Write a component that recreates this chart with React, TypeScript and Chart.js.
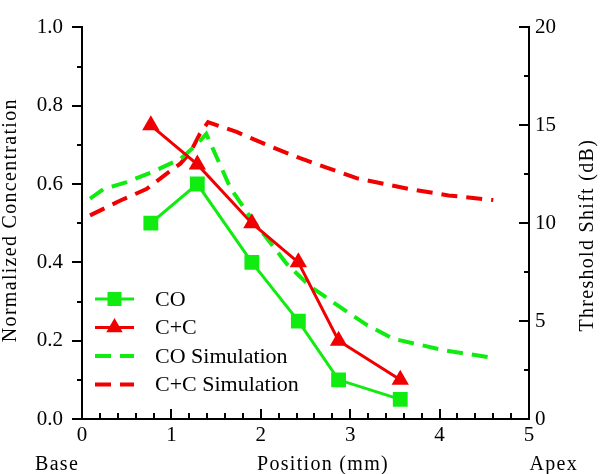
import React, { useEffect, useRef } from 'react';
import { Chart, registerables } from 'chart.js';

Chart.register(...registerables);

// ---- data ----
const coX = [0.77, 1.29, 1.9, 2.42, 2.87, 3.56];
const coY = [0.5, 0.6, 0.4, 0.25, 0.1, 0.05];
const ccX = [0.77, 1.29, 1.9, 2.42, 2.87, 3.56];
const ccY = [0.75, 0.65, 0.5, 0.4, 0.2, 0.1];
const coSimX = [0.09, 0.24, 0.5, 0.8, 1.1, 1.28, 1.39, 1.66, 1.9, 2.07, 2.29, 2.55, 2.81, 3.18, 3.48, 4.04, 4.6];
const coSimY = [0.563, 0.587, 0.605, 0.632, 0.664, 0.7, 0.728, 0.59, 0.51, 0.461, 0.396, 0.339, 0.298, 0.241, 0.205, 0.176, 0.156];
const ccSimX = [0.09, 0.43, 0.72, 0.98, 1.1, 1.21, 1.32, 1.41, 1.73, 2.14, 2.44, 3.07, 3.67, 4.1, 4.6];
const ccSimY = [0.52, 0.558, 0.587, 0.632, 0.652, 0.68, 0.729, 0.758, 0.733, 0.693, 0.666, 0.615, 0.587, 0.571, 0.559];
const seriesLabels = ['CO', 'C+C', 'CO Simulation', 'C+C Simulation'];
const xRange = [0, 5];
const yRange = [0, 1];
const y2Range = [0, 20];
const xMinorStep = 0.2;
const yMinorStep = 0.1;
const y2MinorStep = 2.5;
const xTitle = 'Position (mm)';
const yTitle = 'Normalized Concentration';
const y2Title = 'Threshold Shift (dB)';
const baseLabel = 'Base';
const apexLabel = 'Apex';

const GREEN = '#10ec10';
const RED = '#f00000';
const FONT = "'Liberation Serif', 'Times New Roman', Times, serif";

const pts = (xs: number[], ys: number[]) => xs.map((x, i) => ({ x, y: ys[i] }));

const axisDecor = {
  id: 'axisDecor',
  afterDraw(chart: any) {
    const { ctx, chartArea, scales } = chart;
    const { left, right, top, bottom } = chartArea;
    ctx.save();
    ctx.strokeStyle = '#000';
    ctx.lineWidth = 2;
    ctx.beginPath();
    // x ticks (inward)
    const xs = scales.x;
    for (let v = xs.min; v <= xs.max + 1e-9; v += xMinorStep) {
      const major = Math.abs(v - Math.round(v)) < 1e-6;
      const px = Math.round(xs.getPixelForValue(v));
      ctx.moveTo(px, bottom);
      ctx.lineTo(px, bottom - (major ? 10 : 6));
    }
    // left ticks (outward)
    const ys = scales.y;
    for (let v = ys.min; v <= ys.max + 1e-9; v += yMinorStep) {
      const major = Math.abs(v / 0.2 - Math.round(v / 0.2)) < 1e-6;
      const py = Math.round(ys.getPixelForValue(v));
      ctx.moveTo(left, py);
      ctx.lineTo(left - (major ? 10 : 5), py);
    }
    // right ticks (inward)
    const y2 = scales.y2;
    for (let v = y2.min; v <= y2.max + 1e-9; v += y2MinorStep) {
      const major = Math.abs(v / 5 - Math.round(v / 5)) < 1e-6;
      const py = Math.round(y2.getPixelForValue(v));
      ctx.moveTo(right, py);
      ctx.lineTo(right - (major ? 10 : 5), py);
    }
    ctx.stroke();

    // titles
    ctx.fillStyle = '#000';
    ctx.font = `20px ${FONT}`;
    (ctx as any).letterSpacing = '1.3px';
    ctx.textBaseline = 'alphabetic';
    ctx.textAlign = 'left';
    ctx.fillText(baseLabel, 35, 470);
    ctx.textAlign = 'center';
    ctx.fillText(xTitle, 323, 470);
    ctx.textAlign = 'right';
    ctx.fillText(apexLabel, 578, 470);

    ctx.save();
    ctx.translate(16, (top + bottom) / 2 - 3);
    ctx.rotate(-Math.PI / 2);
    ctx.textAlign = 'center';
    ctx.fillText(yTitle, 0, 0);
    ctx.restore();

    ctx.save();
    ctx.translate(593, (top + bottom) / 2 + 12);
    ctx.rotate(-Math.PI / 2);
    ctx.textAlign = 'center';
    ctx.fillText(y2Title, 0, 0);
    ctx.restore();
    (ctx as any).letterSpacing = '0px';

    // legend
    const ds = chart.data.datasets;
    const x0 = 95, x1 = 134, tx = 155, row0 = 299, step = 28.5;
    ctx.font = `22px ${FONT}`;
    ctx.textAlign = 'left';
    ctx.textBaseline = 'middle';
    ds.forEach((d: any, i: number) => {
      const y = row0 + i * step;
      ctx.strokeStyle = d.borderColor;
      ctx.lineWidth = d.borderWidth;
      ctx.setLineDash(d.borderDash || []);
      ctx.beginPath();
      ctx.moveTo(x0, y);
      ctx.lineTo(x1, y);
      ctx.stroke();
      ctx.setLineDash([]);
      const cx = (x0 + x1) / 2;
      ctx.fillStyle = d.borderColor;
      if (d.pointStyle === 'rect') {
        const s = 7;
        ctx.fillRect(cx - s, y - s, 2 * s, 2 * s);
      } else if (d.pointStyle === 'triangle') {
        const r = 9.5;
        ctx.beginPath();
        ctx.moveTo(cx, y - r);
        ctx.lineTo(cx + r * Math.cos(Math.PI / 6), y + r / 2);
        ctx.lineTo(cx - r * Math.cos(Math.PI / 6), y + r / 2);
        ctx.closePath();
        ctx.fill();
      }
      ctx.fillStyle = '#000';
      ctx.fillText(d.label, tx, y + 1);
    });
    ctx.restore();
  },
};

export default function App() {
  const ref = useRef<HTMLCanvasElement | null>(null);
  useEffect(() => {
    if (!ref.current) return;
    const tickFont = { family: FONT, size: 21, lineHeight: 0.8 };
    const chart = new Chart(ref.current, {
      type: 'scatter',
      data: {
        datasets: [
          {
            label: seriesLabels[0],
            data: pts(coX, coY),
            borderColor: GREEN,
            backgroundColor: GREEN,
            borderWidth: 3,
            showLine: true,
            pointStyle: 'rect',
            pointRadius: 10.5,
            pointBorderWidth: 0,
            yAxisID: 'y',
          },
          {
            label: seriesLabels[1],
            data: pts(ccX, ccY),
            borderColor: RED,
            backgroundColor: RED,
            borderWidth: 3,
            showLine: true,
            pointStyle: 'triangle',
            pointRadius: 10,
            pointBorderWidth: 0,
            yAxisID: 'y',
          },
          {
            label: seriesLabels[2],
            data: pts(coSimX, coSimY),
            borderColor: GREEN,
            backgroundColor: GREEN,
            borderWidth: 4,
            borderDash: [16, 9],
            showLine: true,
            pointRadius: 0,
            yAxisID: 'y',
          },
          {
            label: seriesLabels[3],
            data: pts(ccSimX, ccSimY),
            borderColor: RED,
            backgroundColor: RED,
            borderWidth: 4,
            borderDash: [16, 9],
            showLine: true,
            pointRadius: 0,
            yAxisID: 'y',
          },
        ],
      },
      options: {
        animation: false,
        responsive: false,
        layout: { padding: { top: 9, left: 0, right: 0, bottom: 0 } },
        plugins: { legend: { display: false }, tooltip: { enabled: false } },
        scales: {
          x: {
            type: 'linear',
            position: 'bottom',
            min: xRange[0],
            max: xRange[1],
            ticks: { stepSize: 1, font: { family: FONT, size: 21 }, color: '#000', padding: 4 },
            grid: { display: false, drawTicks: false },
            border: { display: true, color: '#000', width: 2 },
            afterFit: (s: any) => { s.height = 55; },
          },
          y: {
            type: 'linear',
            position: 'left',
            min: yRange[0],
            max: yRange[1],
            ticks: { stepSize: 0.2, font: tickFont, color: '#000', padding: 19, callback: (v: any) => Number(v).toFixed(1) },
            grid: { display: false, drawTicks: false },
            border: { display: true, color: '#000', width: 2 },
            afterFit: (s: any) => { s.width = 82; },
          },
          y2: {
            type: 'linear',
            position: 'right',
            min: y2Range[0],
            max: y2Range[1],
            ticks: { stepSize: 5, font: tickFont, color: '#000', padding: 6 },
            grid: { display: false, drawTicks: false },
            border: { display: true, color: '#000', width: 2 },
            afterFit: (s: any) => { s.width = 71; },
          },
        },
      } as any,
      plugins: [axisDecor],
    });
    return () => chart.destroy();
  }, []);
  return (
    <div style={{ position: 'fixed', left: 0, top: 0, width: 600, height: 474, background: '#fff' }}>
      <canvas ref={ref} width={600} height={474} style={{ display: 'block' }} />
    </div>
  );
}
